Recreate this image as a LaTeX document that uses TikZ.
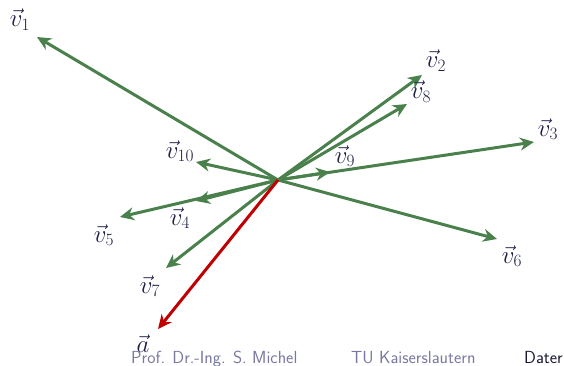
\documentclass[tikz,border=0pt]{standalone}
\usetikzlibrary{arrows.meta}
\definecolor{vgreen}{RGB}{74,128,76}
\definecolor{vred}{RGB}{192,0,0}
\definecolor{lbl}{RGB}{30,30,70}
\definecolor{foot}{RGB}{120,120,160}
\definecolor{footdark}{RGB}{25,25,50}
\tikzset{
  vec/.style={draw=vgreen, line width=3pt, -{Stealth[length=14pt,width=13pt,inset=4.5pt]}},
  avec/.style={vec, draw=vred},
  lab/.style={text=lbl, inner sep=0pt, font=\fontsize{27}{32}\selectfont},
  foottxt/.style={inner sep=0pt, anchor=base west, font=\fontsize{17.5}{20}\selectfont\sffamily},
}
\begin{document}
\begin{tikzpicture}[x=1pt,y=-1pt]
\useasboundingbox (0,0) rectangle (564,366);
\coordinate (o) at (278,180);
\coordinate (t1) at (37,37);
\coordinate (t2) at (422,75);
\coordinate (t8) at (407,104);
\coordinate (t3) at (534,142);
\coordinate (t9) at (330,172);
\coordinate (t10) at (196,162);
\coordinate (t4) at (196,201);
\coordinate (t5) at (120,217);
\coordinate (t6) at (497,239);
\coordinate (t7) at (166,268);
\coordinate (ta) at (158,329);
\draw[vec] (o) -- (t1);
\draw[vec] (o) -- (t2);
\draw[vec] (o) -- (t8);
\draw[vec] (o) -- (t3);
\draw[vec] (o) -- (t9);
\draw[vec] (o) -- (t10);
\draw[vec] (o) -- (t5);
\draw[vec] (o) -- (t4);
\draw[vec] (o) -- (t6);
\draw[vec] (o) -- (t7);
\draw[avec] (o) -- (ta);
\node[lab] (l1) at (20,20) {$\vec{v}_1$};
\node[lab] (l2) at (436,61) {$\vec{v}_2$};
\node[lab] (l8) at (421,92) {$\vec{v}_8$};
\node[lab] (l3) at (548,129) {$\vec{v}_3$};
\node[lab] (l9) at (345,156) {$\vec{v}_9$};
\node[lab] (l10) at (180,151) {$\vec{v}_{10}$};
\node[lab] (l4) at (180,218) {$\vec{v}_4$};
\node[lab] (l5) at (104,235) {$\vec{v}_5$};
\node[lab] (l6) at (512,256) {$\vec{v}_6$};
\node[lab] (l7) at (150,286) {$\vec{v}_7$};
\node[lab] (la) at (143,344) {$\vec{a}$};
\node[foottxt, text=foot] (f1) at (131,363) {Prof. Dr.-Ing. S. Michel};
\node[foottxt, text=foot] (f2) at (351,363) {TU Kaiserslautern};
\node[foottxt, text=footdark] (f3) at (524,363) {Dater};
\end{tikzpicture}
\end{document}
